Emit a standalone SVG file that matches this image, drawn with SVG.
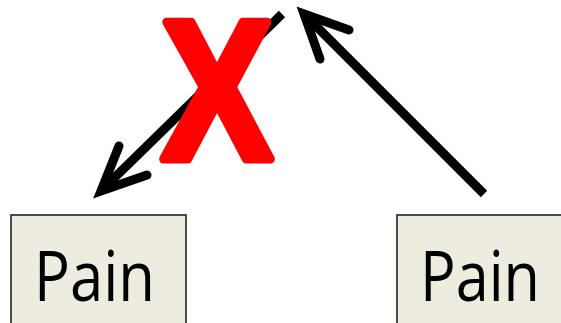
<svg xmlns="http://www.w3.org/2000/svg" width="561" height="323" viewBox="0 0 561 323">
<style>
.box{fill:#EEEBE0;stroke:#222;stroke-width:1.6}
.lbl{font-family:"Open Sans","Liberation Sans",Arial,sans-serif;font-size:70px;fill:#000}
.shaft{fill:none;stroke:#000;stroke-width:9;stroke-linecap:butt}
.head{fill:none;stroke:#000;stroke-width:9;stroke-linecap:round;stroke-linejoin:miter;stroke-miterlimit:10}
.x{font-family:"Liberation Sans",Arial,sans-serif;font-weight:bold;font-size:198px;fill:#FF0000;stroke:#FF0000;stroke-width:9;stroke-linejoin:round}
</style>
<rect width="561" height="323" fill="#fff"/>
<g id="node-left">
<rect class="box" x="11" y="215" width="175" height="120"/>
<text class="lbl" x="34" y="301" textLength="121" lengthAdjust="spacingAndGlyphs">Pain</text>
</g>
<g id="node-right">
<rect class="box" x="397" y="215" width="180" height="120"/>
<text class="lbl" x="420" y="301" textLength="120" lengthAdjust="spacingAndGlyphs">Pain</text>
</g>
<g id="connectors">
<path class="shaft" d="M282,14 L106,186"/>
<path class="head" d="M119,146 L101,191 L147,175"/>
<path class="shaft" d="M484,194 L309,19"/>
<path class="head" d="M320,59 L304,14 L349,30"/>
</g>
<g id="cross">
<text class="x" transform="translate(217,158.5) scale(0.84,1)" text-anchor="middle" x="0" y="0">X</text>
</g>
</svg>
